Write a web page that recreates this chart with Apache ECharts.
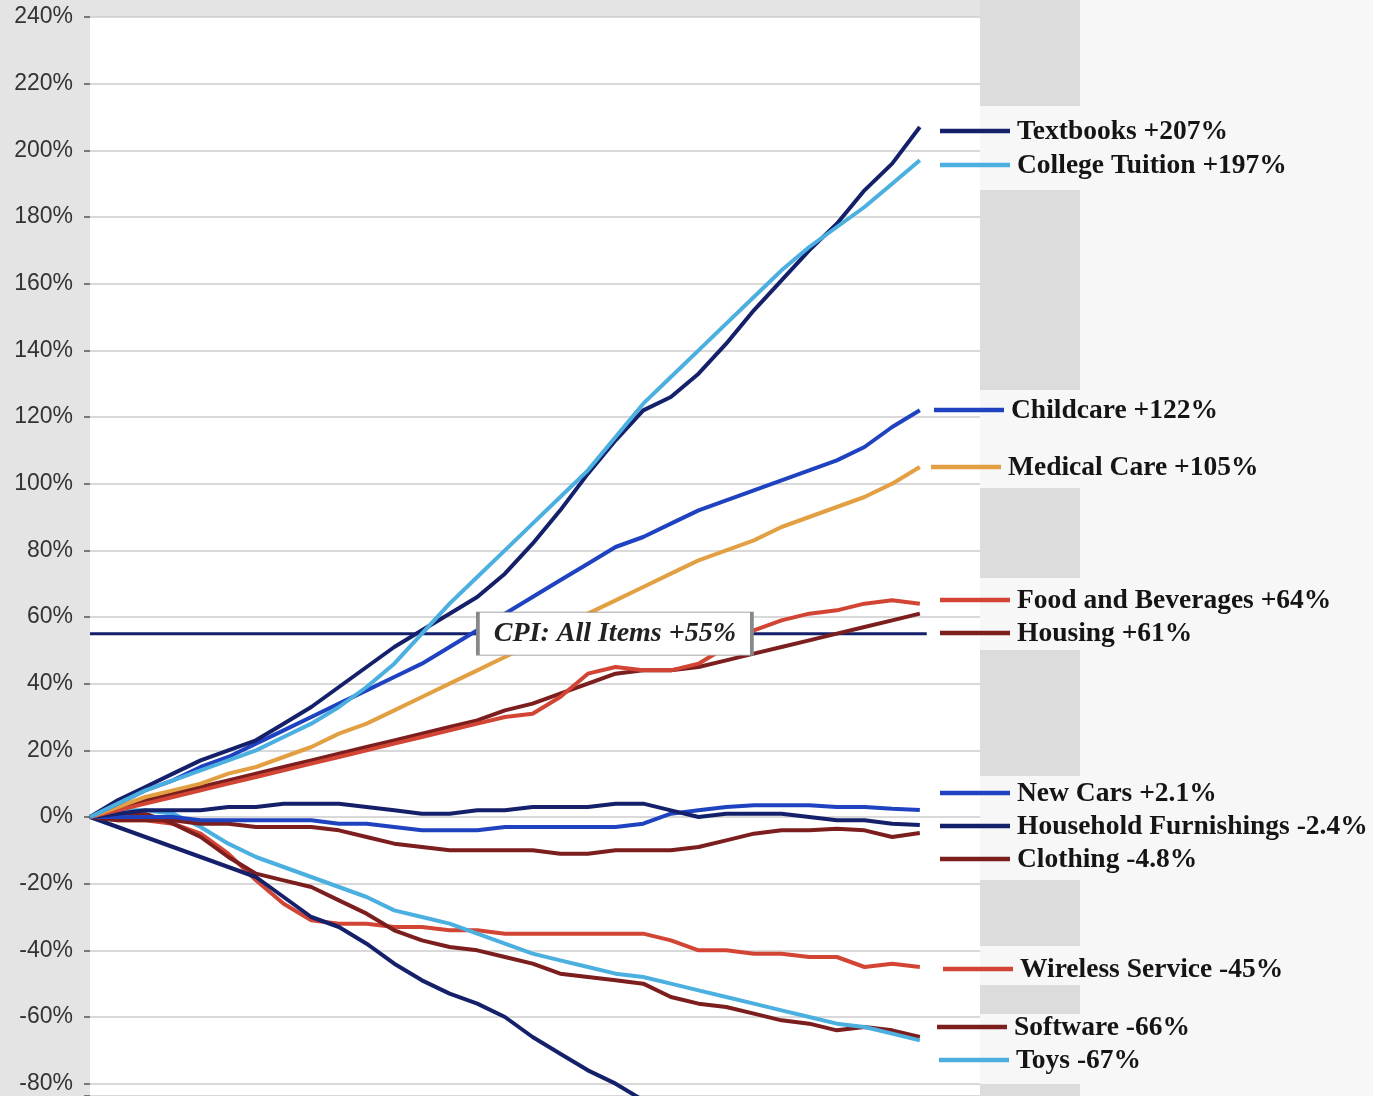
<!DOCTYPE html>
<html>
<head>
<meta charset="utf-8">
<script src="https://cdn.jsdelivr.net/npm/echarts@6/dist/echarts.min.js"></script>
<style>
html,body{margin:0;padding:0;background:#e4e4e4;}
#c{width:1373px;height:1096px;}
</style>
</head>
<body>
<div id="c"></div>
<script>
// months since Jan 1997 (sample points)
const months = [0,8,16,24,32,40,48,56,64,72,80,88,96,104,112,120,128,136,144,152,160,168,176,184,192,200,208,216,224,232,240];
const yTicks = [-80,-60,-40,-20,0,20,40,60,80,100,120,140,160,180,200,220,240];

const textbooks = [0,5,9,13,17,20,23,28,33,39,45,51,56,61,66,73,82,92,103,113,122,126,133,142,152,161,170,178,188,196,207];
const tuition   = [0,4,8,11,14,17,20,24,28,33,39,46,55,64,72,80,88,96,104,114,124,132,140,148,156,164,171,177,183,190,197];
const childcare = [0,4,8,11,15,18,22,26,30,34,38,42,46,51,56,61,66,71,76,81,84,88,92,95,98,101,104,107,111,117,122];
const medical   = [0,3,6,8,10,13,15,18,21,25,28,32,36,40,44,48,52,57,61,65,69,73,77,80,83,87,90,93,96,100,105];
const food      = [0,2,4,6,8,10,12,14,16,18,20,22,24,26,28,30,31,36,43,45,44,44,46,51,56,59,61,62,64,65,64];
const housing   = [0,3,5,7,9,11,13,15,17,19,21,23,25,27,29,32,34,37,40,43,44,44,45,47,49,51,53,55,57,59,61];
const cpi       = [55,55];
const cpiMonths = [0,242];
const newCars   = [0,0,0,0,-1,-1,-1,-1,-1,-2,-2,-3,-4,-4,-4,-3,-3,-3,-3,-3,-2,1,2,3,3.5,3.5,3.5,3,3,2.5,2.1];
const household = [0,1,2,2,2,3,3,4,4,4,3,2,1,1,2,2,3,3,3,4,4,2,0,1,1,1,0,-1,-1,-2,-2.4];
const clothing  = [0,-1,-1,-1,-2,-2,-3,-3,-3,-4,-6,-8,-9,-10,-10,-10,-10,-11,-11,-10,-10,-10,-9,-7,-5,-4,-4,-3.5,-4,-6,-4.8];
const wireless  = [0,-1,-1,-2,-5,-11,-19,-26,-31,-32,-32,-33,-33,-34,-34,-35,-35,-35,-35,-35,-35,-37,-40,-40,-41,-41,-42,-42,-45,-44,-45];
const software  = [0,1,1,-2,-6,-12,-17,-19,-21,-25,-29,-34,-37,-39,-40,-42,-44,-47,-48,-49,-50,-54,-56,-57,-59,-61,-62,-64,-63,-64,-66];
const toys      = [0,2,2,1,-3,-8,-12,-15,-18,-21,-24,-28,-30,-32,-35,-38,-41,-43,-45,-47,-48,-50,-52,-54,-56,-58,-60,-62,-63,-65,-67];
const tvs       = [0,-3,-6,-9,-12,-15,-18,-24,-30,-33,-38,-44,-49,-53,-56,-60,-66,-71,-76,-80,-85,-87,-89,-91,-93,-94,-95,-95,-96,-96,-96];

const cpiLabel = 'CPI: All Items +55%';
const legendLabels = ['Textbooks +207%','College Tuition +197%','Childcare +122%','Medical Care +105%',
  'Food and Beverages +64%','Housing +61%','New Cars +2.1%','Household Furnishings -2.4%','Clothing -4.8%',
  'Wireless Service -45%','Software -66%','Toys -67%'];

// colours & layout
const NAVY='#15206b', LBLUE='#4bafe0', BLUE='#1f43c0', ORANGE='#e2a042', RED='#d24535', DRED='#7c1e1e';
const legendColors = [NAVY,LBLUE,BLUE,ORANGE,RED,DRED,BLUE,NAVY,DRED,RED,DRED,LBLUE];
const legendY  = [131,165,410,467,600,633,793,826,859,969,1027,1060];
const legendTX = [1017,1017,1011,1008,1017,1017,1017,1017,1017,1020,1014,1016];

const chart = echarts.init(document.getElementById('c'), null, {renderer:'canvas'});

function line(name, vals, color, xs){
  const xv = xs || months;
  return {name, type:'line', data: vals.map((v,i)=>[xv[i],v]), showSymbol:false, smooth:false,
    lineStyle:{color, width:4}, itemStyle:{color}, clip:true, silent:true};
}

const graphics = [];
graphics.push({type:'rect', shape:{x:980,y:0,width:393,height:1096}, style:{fill:'#f7f7f7'}, z:-5});
[[0,106],[190,390],[488,578],[650,776],[880,946],[985,1014],[1084,1096]].forEach(b=>{
  graphics.push({type:'rect', shape:{x:980,y:b[0],width:100,height:b[1]-b[0]}, style:{fill:'#dcdcdc'}, z:-4});
});
legendLabels.forEach((t,i)=>{
  const tx = legendTX[i];
  graphics.push({type:'line', shape:{x1:tx-77,y1:legendY[i],x2:tx-7,y2:legendY[i]},
    style:{stroke:legendColors[i], lineWidth:4.5}, z:50});
  graphics.push({type:'text', x:tx, y:legendY[i]+1, style:{text:t, fill:'#151515',
    font:'bold 27.5px "Liberation Serif", "Times New Roman", serif', verticalAlign:'middle', align:'left'}, z:50});
});

const option = {
  backgroundColor:'#e4e4e4',
  animation:false,
  grid:{left:90, top:17, width:890, bottom:0, show:true, backgroundColor:'#ffffff', borderWidth:0},
  xAxis:{type:'value', min:0, max:257.4, show:false, splitLine:{show:false}},
  yAxis:{type:'value', min:-83.7, max:240, splitNumber:16, minInterval:20, maxInterval:20,
    axisLine:{show:false},
    axisTick:{show:true, length:6, lineStyle:{color:'#777', width:2}},
    axisLabel:{formatter: v => yTicks.includes(Math.round(v*1000)/1000) ? v + '%' : '', fontSize:23, color:'#333',
      fontFamily:'"Liberation Sans", Arial, sans-serif', margin:17, showMinLabel:true, showMaxLabel:true},
    splitLine:{lineStyle:{color:'#cdcdcd', width:1.5}}},
  graphic: graphics,
  series:[
    Object.assign(line('CPI: All Items', cpi, NAVY, cpiMonths), {lineStyle:{color:NAVY,width:3},
      markPoint:{silent:true, symbol:'rect', symbolSize:[274,43],
        itemStyle:{color:'#ffffff', borderColor:'#888', borderWidth:1.5},
        label:{show:true, formatter: cpiLabel, color:'#222', fontSize:28, fontStyle:'italic', fontWeight:'bold',
          fontFamily:'"Liberation Serif", "Times New Roman", serif'},
        data:[{coord:[151.8,55]}]}, z:1}),
    line('Wireless Service', wireless, RED),
    line('Software', software, DRED),
    line('Toys', toys, LBLUE),
    line('Televisions', tvs, NAVY),
    line('Clothing', clothing, DRED),
    line('New Cars', newCars, BLUE),
    line('Household Furnishings', household, NAVY),
    line('Housing', housing, DRED),
    line('Food and Beverages', food, RED),
    line('Medical Care', medical, ORANGE),
    line('Childcare', childcare, BLUE),
    line('Textbooks', textbooks, NAVY),
    line('College Tuition', tuition, LBLUE)
  ]
};
chart.setOption(option);
</script>
</body>
</html>
